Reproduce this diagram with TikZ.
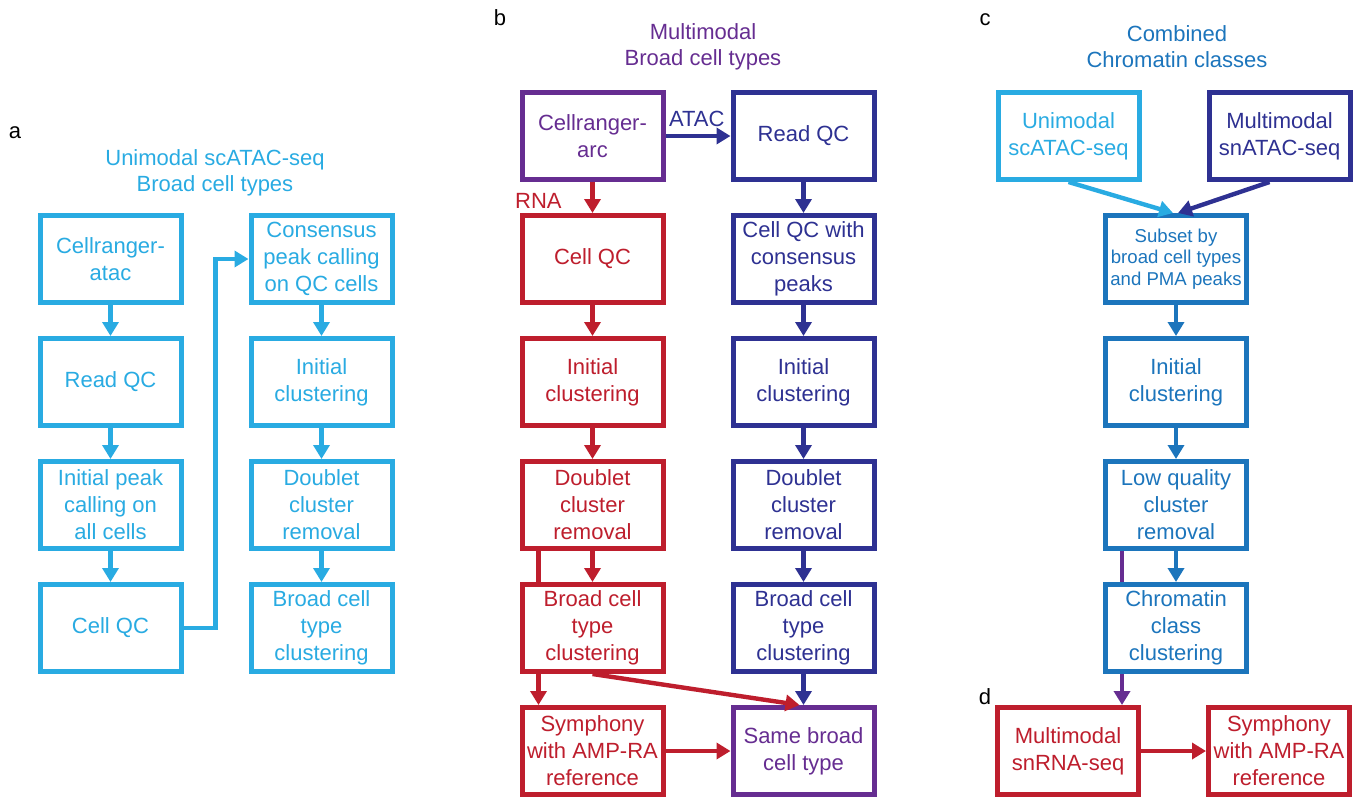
\documentclass[tikz,border=0pt]{standalone}
\usepackage{fontspec}
\setmainfont{Liberation Sans}
\usepackage{xcolor}
\usetikzlibrary{arrows.meta,positioning,backgrounds}

\definecolor{skyb}{HTML}{29ABE2}
\definecolor{navyb}{HTML}{2E3192}
\definecolor{purp}{HTML}{662D91}
\definecolor{redb}{HTML}{BE1E2D}
\definecolor{midb}{HTML}{1C75BC}

\begin{document}
\begin{tikzpicture}[
      x=0.5pt, y=-0.5pt,
      box/.style={draw=#1, text=#1, fill=white, line width=2.5pt, align=center,
                  font=\fontsize{11}{13.5}\selectfont, inner sep=1pt,
                  minimum width=70.5pt, minimum height=43.5pt},
      ttl/.style={text=#1, align=center, font=\fontsize{11}{13}\selectfont},
      lbl/.style={font=\fontsize{11}{13}\selectfont},
      ar/.style={draw=#1, -{Triangle[length=7pt,width=8pt]}, line width=2.2pt},
      node distance=15.5pt and 32.5pt
    ]
    \useasboundingbox (0,0) rectangle (1358,798);
    % a: unimodal
    \node[lbl] (labA) at (15,133) {a};
    \node[ttl=skyb] (ttlA) at (215,173) {Unimodal scATAC-seq\\Broad cell types};
    \node[box=skyb] (crA) at (110.5,259) {Cellranger-\\atac};
    \node[box=skyb, below=of crA] (rqA) {Read QC};
    \node[box=skyb, below=of rqA] (ipA) {Initial peak\\calling on\\all cells};
    \node[box=skyb, below=of ipA] (cqA) {Cell QC};
    \node[box=skyb, right=of crA] (consA) {Consensus\\peak calling\\on QC cells};
    \node[box=skyb, below=of consA] (icA) {Initial\\clustering};
    \node[box=skyb, below=of icA] (dcA) {Doublet\\cluster\\removal};
    \node[box=skyb, below=of dcA] (bcA) {Broad cell\\type\\clustering};
    \draw[ar=skyb] (crA) -- (rqA);
    \draw[ar=skyb] (rqA) -- (ipA);
    \draw[ar=skyb] (ipA) -- (cqA);
    \draw[ar=skyb] (cqA.east) -- ++(16pt,0) |- (consA.west);
    \draw[ar=skyb] (consA) -- (icA);
    \draw[ar=skyb] (icA) -- (dcA);
    \draw[ar=skyb] (dcA) -- (bcA);

    % b: multimodal
    \node[lbl] (labB) at (500,18) {b};
    \node[ttl=purp] (ttlB) at (703,47) {Multimodal\\Broad cell types};
    \node[box=purp] (crB) at (592.5,136) {Cellranger-\\arc};
    \node[box=navyb, right=of crB] (rqB) {Read QC};
    \node[box=redb, below=of crB] (cqR) {Cell QC};
    \node[box=redb, below=of cqR] (icR) {Initial\\clustering};
    \node[box=redb, below=of icR] (dcR) {Doublet\\cluster\\removal};
    \node[box=redb, below=of dcR] (bcR) {Broad cell\\type\\clustering};
    \node[box=redb, below=of bcR] (symR) {Symphony\\with AMP-RA\\reference};
    \node[box=navyb, below=of rqB] (cqN) {Cell QC with\\consensus\\peaks};
    \node[box=navyb, below=of cqN] (icN) {Initial\\clustering};
    \node[box=navyb, below=of icN] (dcN) {Doublet\\cluster\\removal};
    \node[box=navyb, below=of dcN] (bcN) {Broad cell\\type\\clustering};
    \node[box=purp, below=of bcN] (sameB) {Same broad\\cell type};
    \draw[ar=navyb] (crB) -- node[above, lbl, text=navyb, pos=0.48] {ATAC} (rqB);
    \draw[ar=redb] (crB) -- node[left=11pt, pos=0.6, lbl, text=redb] {RNA} (cqR);
    \draw[ar=redb] (cqR) -- (icR);
    \draw[ar=redb] (icR) -- (dcR);
    \draw[ar=redb] (dcR) -- (bcR);
    \coordinate (skipR) at ([xshift=-27pt]dcR.south);
    \begin{scope}[on background layer]
      \draw[ar=redb] (skipR) -- (skipR |- symR.north);
    \end{scope}
    \draw[ar=navyb] (rqB) -- (cqN);
    \draw[ar=navyb] (cqN) -- (icN);
    \draw[ar=navyb] (icN) -- (dcN);
    \draw[ar=navyb] (dcN) -- (bcN);
    \draw[ar=navyb] (bcN) -- (sameB);
    \draw[ar=redb] (bcR.south) -- ([xshift=-2pt]sameB.north);
    \draw[ar=redb] (symR) -- (sameB);

    % c, d: combined
    \node[lbl] (labC) at (985,20) {c};
    \node[ttl=midb] (ttlC) at (1177,47) {Combined\\Chromatin classes};
    \node[box=skyb] (uniC) at (1068.5,136) {Unimodal\\scATAC-seq};
    \node[box=navyb, right=of uniC] (mulC) {Multimodal\\snATAC-seq};
    \node[box=midb, font=\fontsize{9.3}{10.8}\selectfont] (subC) at (1176,259) {Subset by\\broad cell types\\and PMA peaks};
    \node[box=midb, below=of subC] (icC) {Initial\\clustering};
    \node[box=midb, below=of icC] (lqC) {Low quality\\cluster\\removal};
    \node[box=midb, below=of lqC] (ccC) {Chromatin\\class\\clustering};
    \node[lbl] (labD) at (985,697) {d};
    \node[box=redb] (snD) at (1068,751) {Multimodal\\snRNA-seq};
    \node[box=redb, right=of snD] (symD) {Symphony\\with AMP-RA\\reference};
    \draw[ar=skyb] (uniC.south) -- ([xshift=-1.5pt]subC.north);
    \draw[ar=navyb] ([xshift=-5pt]mulC.south) -- ([xshift=1pt]subC.north);
    \draw[ar=midb] (subC) -- (icC);
    \draw[ar=midb] (icC) -- (lqC);
    \draw[ar=midb] (lqC) -- (ccC);
    \coordinate (skipC) at ([xshift=-27pt]lqC.south);
    \begin{scope}[on background layer]
      \draw[ar=purp] (skipC) -- (skipC |- snD.north);
    \end{scope}
    \draw[ar=redb] (snD) -- (symD);
  \end{tikzpicture}
\end{document}
